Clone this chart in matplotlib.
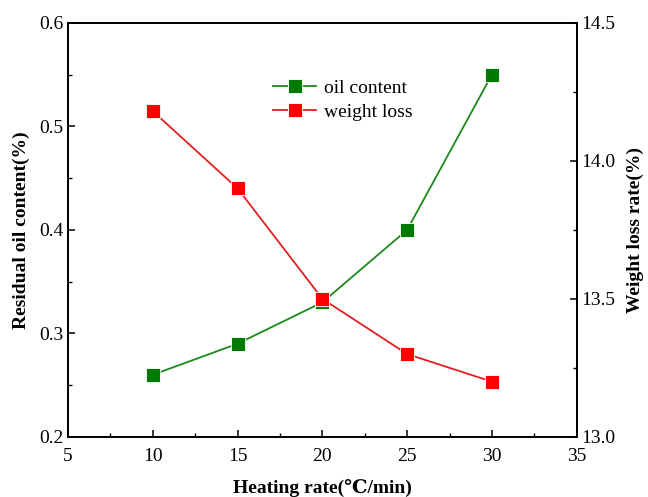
import matplotlib
matplotlib.use("Agg")
import matplotlib.pyplot as plt
from matplotlib.ticker import MultipleLocator

plt.rcParams['font.family'] = ['Liberation Serif', 'DejaVu Serif']

heating_rate = [10, 15, 20, 25, 30]
oil_content = [0.26, 0.29, 0.33, 0.40, 0.55]
weight_loss = [14.18, 13.90, 13.50, 13.30, 13.20]

fig = plt.figure(figsize=(6.48, 4.97), dpi=100)
ax = fig.add_axes([0.105, 0.121, 0.785, 0.833])
ax2 = ax.twinx()

l1, = ax.plot(heating_rate, oil_content, color='#1a8a1a', lw=1.3, marker='s',
              markersize=9.5, markerfacecolor='#007a00', markeredgecolor='white',
              markeredgewidth=0.6, label='oil content', zorder=3)
l2, = ax2.plot(heating_rate, weight_loss, color='#e02020', lw=1.3, marker='s',
               markersize=9.5, markerfacecolor='#ff0000', markeredgecolor='white',
               markeredgewidth=0.6, label='weight loss', zorder=3)

ax.set_xlim(5, 35)
ax.set_ylim(0.2, 0.6)
ax2.set_ylim(13.0, 14.5)

ax.xaxis.set_major_locator(MultipleLocator(5))
ax.xaxis.set_minor_locator(MultipleLocator(2.5))
ax.yaxis.set_major_locator(MultipleLocator(0.1))
ax.yaxis.set_minor_locator(MultipleLocator(0.05))
ax2.yaxis.set_major_locator(MultipleLocator(0.5))
ax2.yaxis.set_minor_locator(MultipleLocator(0.25))
ax2.yaxis.set_major_formatter(plt.FormatStrFormatter('%.1f'))

for a in (ax, ax2):
    a.tick_params(which='major', direction='in', length=5, width=1.1, labelsize=14)
    a.tick_params(which='minor', direction='in', length=3, width=1.0)
    for s in a.spines.values():
        s.set_linewidth(1.3)
ax.tick_params(axis='x', pad=8)

ax.set_xlabel('Heating rate(\u2103/min)', fontsize=14, fontweight='bold', labelpad=10)
ax.set_ylabel('Residual oil content(%)', fontsize=14, fontweight='bold', labelpad=6)
ax2.set_ylabel('Weight loss rate(%)', fontsize=14, fontweight='bold', labelpad=8)

ax.legend(handles=[l1, l2], loc='upper center', bbox_to_anchor=(0.54, 0.905),
          frameon=False, fontsize=14, handlelength=2.2, handletextpad=0.4,
          labelspacing=0.3)

fig.savefig('out.png', dpi=100)
